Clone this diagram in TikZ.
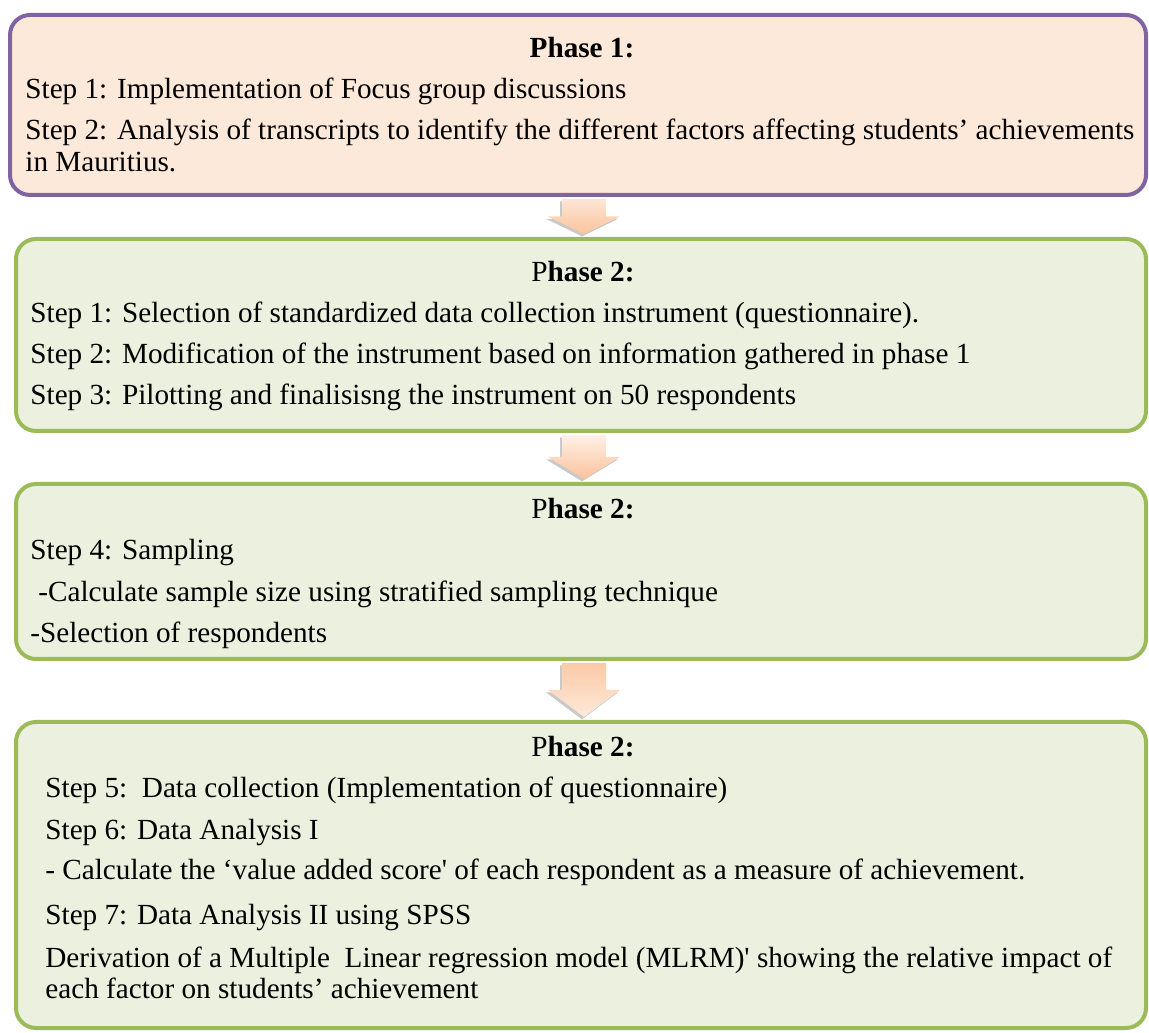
\documentclass[tikz,border=0pt]{standalone}
\usepackage{fontspec}
\setmainfont{Liberation Serif}
\usetikzlibrary{calc,shadows}

\definecolor{phasepurple}{HTML}{8064A2}
\definecolor{phasepeach}{HTML}{FDE9D9}
\definecolor{phasegreen}{HTML}{9BBB59}
\definecolor{phaselime}{HTML}{EBF1DE}
\definecolor{arrowlight}{HTML}{FEE6D6}
\definecolor{arrowdark}{HTML}{FBC39B}

\tikzset{
  phasebox/.style={draw, line width=2pt, rounded corners=10pt, inner sep=0pt},
  steptext/.style={anchor=base west, inner sep=0pt, font=\fontsize{14.6}{16}\selectfont},
  phasetitle/.style={anchor=base, inner sep=0pt, font=\fontsize{14.6}{16}\selectfont},
  flowarrow/.style={draw=none, drop shadow={shadow xshift=-1pt, shadow yshift=-1.2pt, opacity=0.3, fill=black!70}}
}

% block arrow from the bottom of #1 to the top of #2
\newcommand{\phasearrow}[4]{%
  \path[flowarrow, top color=#3, bottom color=#4]
    let \p1=($(#1.south -| ax)+(0,-2)$), \p2=($(#2.north -| ax)+(0,3)$) in
    (\x1-11pt,\y1) -- (\x1+11pt,\y1) -- (\x1+11pt,{(\y1+\y2)/2}) -- (\x1+18pt,{(\y1+\y2)/2})
    -- (\x2,\y2) -- (\x1-18pt,{(\y1+\y2)/2}) -- (\x1-11pt,{(\y1+\y2)/2}) -- cycle;
}

\begin{document}
\begin{tikzpicture}[x=0.5pt,y=0.5pt]
  \useasboundingbox (0,0) rectangle (1149,1032);
  \coordinate (ax) at (584,0);

  % boxes
  \node[phasebox, draw=phasepurple, fill=phasepeach, minimum width=568pt, minimum height=90pt] (ph1) at (578,927) {};
  \node[phasebox, draw=phasegreen, fill=phaselime, minimum width=565pt, minimum height=96pt] (ph2) at (581,697) {};
  \node[phasebox, draw=phasegreen, fill=phaselime, minimum width=565pt, minimum height=87.5pt] (ph3) at (581,460.5) {};
  \node[phasebox, draw=phasegreen, fill=phaselime, minimum width=565pt, minimum height=153pt] (ph4) at (581,157) {};

  % arrows
  \phasearrow{ph1}{ph2}{arrowlight}{arrowdark}
  \phasearrow{ph2}{ph3}{arrowlight!60!white}{arrowdark}
  \phasearrow{ph3}{ph4}{arrowdark!80!arrowlight}{phasepeach}

  % phase 1
  \node[phasetitle] (t1) at (582,974) {\textbf{Phase 1:}};
  \node[steptext] (s11) at (25,933) {Step 1: Implementation of Focus group discussions};
  \node[steptext] (s12) at (25,892) {Step 2: Analysis of transcripts to identify the different factors affecting students’ achievements};
  \node[steptext] (s13) at (25,860) {in Mauritius.};

  % phase 2
  \node[phasetitle] (t2) at (583,750) {P\textbf{hase 2:}};
  \node[steptext] (s21) at (30,709) {Step 1: Selection of standardized data collection instrument (questionnaire).};
  \node[steptext] (s22) at (30,668) {Step 2: Modification of the instrument based on information gathered in phase 1};
  \node[steptext] (s23) at (30,627) {Step 3: Pilotting and finalisisng the instrument on 50 respondents};

  % phase 2, sampling
  \node[phasetitle] (t3) at (583,513) {P\textbf{hase 2:}};
  \node[steptext] (s31) at (30,472) {Step 4: Sampling};
  \node[steptext] (s32) at (38,430) {-Calculate sample size using stratified sampling technique};
  \node[steptext] (s33) at (30,389) {-Selection of respondents};

  % phase 2, analysis
  \node[phasetitle] (t4) at (583,275) {P\textbf{hase 2:}};
  \node[steptext] (s41) at (45,234) {Step 5:\ \ Data collection (Implementation of questionnaire)};
  \node[steptext] (s42) at (45,192) {Step 6: Data Analysis I};
  \node[steptext] (s43) at (45,152) {- Calculate the ‘value added score\textquotesingle{} of each respondent as a measure of achievement.};
  \node[steptext] (s44) at (45,107) {Step 7: Data Analysis II using SPSS};
  \node[steptext] (s45) at (45,65) {Derivation of a Multiple\ \ Linear regression model (MLRM)\textquotesingle{} showing the relative impact of};
  \node[steptext] (s46) at (45,34) {each factor on students’ achievement};
\end{tikzpicture}
\end{document}
